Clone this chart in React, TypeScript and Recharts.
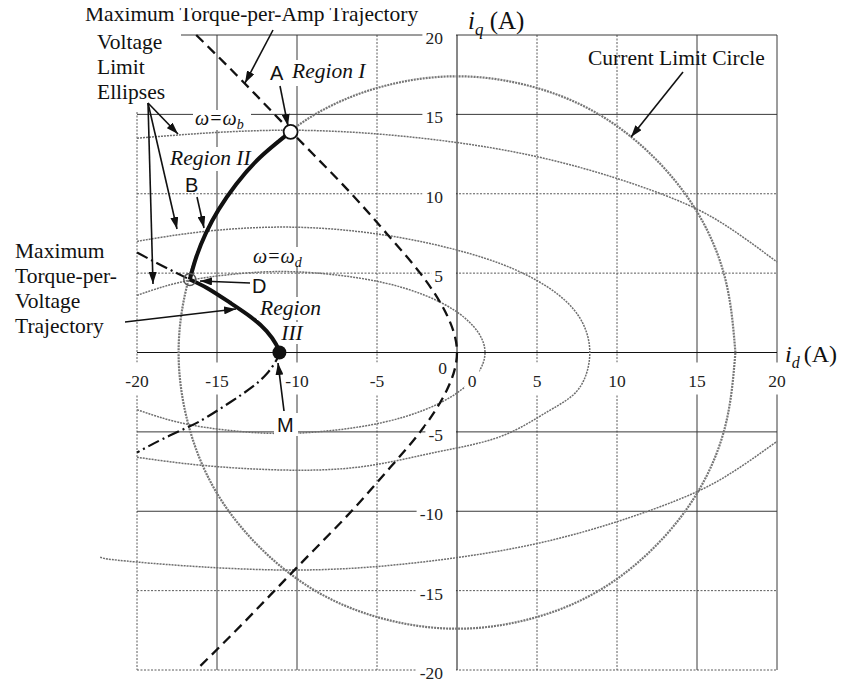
import React from "react";
import {
  ComposedChart,
  CartesianGrid,
  XAxis,
  YAxis,
  Line,
  Scatter,
} from "recharts";

type Pair = [number, number];

const X_TICKS = [-20, -15, -10, -5, 0, 5, 10, 15, 20];
const Y_TICKS = [20, 15, 10, 5, 0, -5, -10, -15, -20];
const SOLID_X = [-15, -10, 15, 20];
const DOTTED_X = [-20, -5, 5, 10];
const SOLID_Y = [20, 15, -5, -10];
const DOTTED_Y = [10, 5, -15, -20];

// all curves are [i_d, i_q] pairs in amperes
const currentLimitCircle: Pair[] = [
  [17.4, 0], [16.8, 4.5], [15.1, 8.7], [12.3, 12.3], [8.7, 15.1], [4.5, 16.8],
  [0, 17.4], [-4.5, 16.8], [-8.7, 15.1], [-12.3, 12.3], [-15.1, 8.7], [-16.8, 4.5],
  [-17.4, 0], [-16.8, -4.5], [-15.1, -8.7], [-12.3, -12.3], [-8.7, -15.1], [-4.5, -16.8],
  [0, -17.4], [4.5, -16.8], [8.7, -15.1], [12.3, -12.3], [15.1, -8.7], [16.8, -4.5],
  [17.4, 0],
];

// voltage limit ellipse at base speed
const ellipseBaseUpper: Pair[] = [
  [-20, 13.5], [-11, 14.0], [-2.2, 13.5], [6, 12.1], [13, 9.9], [16.8, 8.0], [20, 5.7],
];
const ellipseBaseLower: Pair[] = [
  [-22.3, -12.9], [-20, -13.2], [-11, -13.7], [-2.2, -13.2], [6, -11.8], [13, -9.6],
  [16.8, -7.8], [20, -5.6],
];

// intermediate speed ellipse
const ellipseMid: Pair[] = [
  [-20, 7.0], [-16, 7.6], [-11, 7.9], [-6, 7.6], [-1.4, 6.8], [2.7, 5.6], [5.7, 4.1],
  [7.6, 2.3], [8.3, 0], [7.6, -2.3], [5.7, -3.7], [2.7, -5.3], [-1.4, -6.3], [-6, -7.2],
  [-11, -7.4], [-16, -7.1], [-20, -6.6],
];

// ellipse at omega_d
const ellipseD: Pair[] = [
  [-20, 3.6], [-17.4, 4.4], [-14.3, 4.9], [-11, 5.1], [-7.7, 4.9], [-4.6, 4.4], [-2, 3.6],
  [0, 2.55], [1.3, 1.3], [1.75, 0], [1.3, -1.3], [0, -2.55], [-2, -3.6], [-4.6, -4.4],
  [-7.7, -4.9], [-11, -5.1], [-14.3, -4.9], [-17.4, -4.4], [-20, -3.6],
];

// maximum torque-per-amp trajectory
const mtpa: Pair[] = [
  [-16.3, 20], [-13.8, 17.5], [-11.4, 15], [-9.0, 12.5], [-6.6, 10], [-4.4, 7.5],
  [-2.3, 5], [-0.7, 2.5], [0, 0], [-0.7, -2.5], [-2.3, -5], [-4.4, -7.5], [-6.6, -10],
  [-9.0, -12.5], [-11.4, -15], [-13.8, -17.5], [-16.3, -20],
];

// maximum torque-per-voltage trajectory
const mtpv: Pair[] = [
  [-20, 6.3], [-18.4, 5.45], [-16.7, 4.6], [-15.6, 4.05], [-14.2, 3.15], [-12.9, 2.25],
  [-11.9, 1.35], [-11.3, 0.5], [-11.1, 0], [-11.3, -0.5], [-11.9, -1.35], [-12.9, -2.25],
  [-14.2, -3.15], [-15.6, -4.05], [-16.7, -4.65], [-18.4, -5.45], [-20, -6.3],
];

// operating path A -> D (region II) and D -> M (region III)
const regionII: Pair[] = [
  [-10.4, 13.9], [-12.3, 12.3], [-13.8, 10.6], [-14.9, 9.0], [-15.7, 7.5], [-16.3, 6.0],
  [-16.7, 4.6],
];
const regionIII: Pair[] = [
  [-16.7, 4.6], [-15.6, 4.05], [-14.2, 3.15], [-12.9, 2.25], [-11.9, 1.35], [-11.3, 0.5],
  [-11.1, 0],
];

const pointA: Pair[] = [[-10.4, 13.9]];
const pointD: Pair[] = [[-16.7, 4.6]];
const pointM: Pair[] = [[-11.1, 0]];

const toRows = (pairs: Pair[]) => pairs.map(([id, iq]) => ({ id, iq }));

const W = 830;
const H = 675;
// axes get 1px each (a 0px axis is not drawn at all)
const MARGIN = { top: 27, right: 61, bottom: 12, left: 128 };
const PLOT_LEFT = MARGIN.left + 1;
const PLOT_BOTTOM = H - MARGIN.bottom - 1;
const ZERO_X = PLOT_LEFT + (W - MARGIN.right - PLOT_LEFT) / 2;
const ZERO_Y = MARGIN.top + (PLOT_BOTTOM - MARGIN.top) / 2;

const SERIF = "'Liberation Serif', 'Times New Roman', serif";
const SANS = "'Liberation Sans', Arial, sans-serif";
const TICK_SIZE = 17.5;

const labelWidth = (s: string) =>
  s.replace("-", "").length * 8.8 + (s.startsWith("-") ? 5.8 : 0);

function XTick(props: any) {
  const { x, payload } = props;
  const v = payload.value as number;
  const s = String(v);
  const cx = v === 0 ? x + 15 : x;
  const w = labelWidth(s) + 6;
  return (
    <g>
      <rect x={cx - w / 2} y={ZERO_Y + 10} width={w} height={32} fill="#fff" />
      <text
        x={cx}
        y={ZERO_Y + 34.5}
        textAnchor="middle"
        fontFamily={SERIF}
        fontSize={TICK_SIZE}
        fill="#222"
      >
        {s}
      </text>
    </g>
  );
}

function YTick(props: any) {
  const { y, payload } = props;
  const v = payload.value as number;
  const s = String(v);
  if (v === 0) {
    return (
      <text
        x={ZERO_X - 10}
        y={ZERO_Y + 21}
        textAnchor="end"
        fontFamily={SERIF}
        fontSize={TICK_SIZE}
        fill="#222"
      >
        0
      </text>
    );
  }
  const right = ZERO_X - 14;
  const w = labelWidth(s);
  return (
    <g>
      <rect x={right - w - 3} y={y - 6} width={w + 16} height={18} fill="#fff" />
      <text
        x={right}
        y={y + 9}
        textAnchor="end"
        fontFamily={SERIF}
        fontSize={TICK_SIZE}
        fill="#222"
      >
        {s}
      </text>
    </g>
  );
}

const Arrow = ({ x1, y1, x2, y2 }: { x1: number; y1: number; x2: number; y2: number }) => (
  <line
    x1={x1}
    y1={y1}
    x2={x2}
    y2={y2}
    stroke="#111"
    strokeWidth={1.6}
    markerEnd="url(#arrowHead)"
  />
);

const serifText = { fontFamily: SERIF, fontSize: 21.5, fill: "#111" };
const italicText = { ...serifText, fontStyle: "italic" as const };
const sansText = { fontFamily: SANS, fontSize: 20, fill: "#111" };

function Annotations() {
  return (
    <svg
      width={W}
      height={H}
      style={{
        position: "absolute",
        left: 0,
        top: 0,
        overflow: "visible",
        pointerEvents: "none",
      }}
    >
      <defs>
        <marker
          id="arrowHead"
          viewBox="0 0 12 8"
          refX={12}
          refY={4}
          markerWidth={12}
          markerHeight={8}
          markerUnits="userSpaceOnUse"
          orient="auto"
        >
          <path d="M0,0 L12,4 L0,8 z" fill="#111" />
        </marker>
      </defs>

      {/* label backgrounds */}
      <rect x={87} y={20} width={86} height={84} fill="#fff" />
      <rect x={185} y={102} width={58} height={20} fill="#fff" />
      <rect x={158} y={139} width={78} height={24} fill="#fff" />
      <rect x={282} y={52} width={80} height={26} fill="#fff" />
      <rect x={243} y={239} width={58} height={19} fill="#fff" />
      <rect x={242} y={268} width={19} height={20} fill="#fff" />
      <rect x={249} y={289} width={69} height={23} fill="#fff" />
      <rect x={272} y={314} width={26} height={22} fill="#fff" />
      <rect x={266} y={405} width={24} height={23} fill="#fff" />

      <text x={77} y={13} {...serifText}>Maximum Torque-per-Amp Trajectory</text>
      <text x={89} y={41} {...serifText}>Voltage</text>
      <text x={89} y={66} {...serifText}>Limit</text>
      <text x={89} y={91} {...serifText}>Ellipses</text>

      <text x={262} y={72} {...sansText}>A</text>
      <text x={284} y={70} {...italicText}>Region I</text>
      <text x={187} y={117} {...italicText} fontSize={20}>
        ω=ω<tspan fontSize={14} dy={4}>b</tspan>
      </text>
      <text x={162} y={157} {...italicText}>Region II</text>
      <text x={177} y={184} {...sansText}>B</text>
      <text x={245} y={255} {...italicText} fontSize={20}>
        ω=ω<tspan fontSize={14} dy={4}>d</tspan>
      </text>
      <text x={244} y={285} {...sansText}>D</text>
      <text x={252} y={307} {...italicText}>Region</text>
      <text x={284} y={332} textAnchor="middle" {...italicText}>III</text>

      <text x={7} y={250} {...serifText}>Maximum</text>
      <text x={7} y={275} {...serifText}>Torque-per-</text>
      <text x={7} y={300} {...serifText}>Voltage</text>
      <text x={7} y={325} {...serifText}>Trajectory</text>

      <text x={269} y={424} {...sansText}>M</text>
      <text x={580} y={57} {...serifText}>Current Limit Circle</text>

      <text x={460} y={21} fontFamily={SERIF} fontSize={25} fill="#111">
        <tspan fontStyle="italic">i</tspan>
        <tspan fontStyle="italic" fontSize={17} dy={6}>q</tspan>
        <tspan dy={-6}> (A)</tspan>
      </text>
      <text x={777} y={354} fontFamily={SERIF} fontSize={24} fill="#111">
        <tspan fontStyle="italic">i</tspan>
        <tspan fontStyle="italic" fontSize={16} dy={6}>d</tspan>
        <tspan dy={-6} dx={4}>(A)</tspan>
      </text>

      <Arrow x1={265} y1={22} x2={237} y2={75} />
      <Arrow x1={140} y1={95} x2={170} y2={126} />
      <Arrow x1={140} y1={95} x2={169} y2={221} />
      <Arrow x1={140} y1={95} x2={145} y2={276} />
      <Arrow x1={272} y1={78} x2={280} y2={118} />
      <Arrow x1={189} y1={189} x2={196} y2={220} />
      <Arrow x1={242} y1={275} x2={192} y2={273} />
      <Arrow x1={117} y1={314} x2={228} y2={301} />
      <Arrow x1={276} y1={403} x2={270} y2={355} />
      <Arrow x1={675} y1={64} x2={623} y2={129} />
    </svg>
  );
}

const ellipseStyle = {
  type: "natural" as const,
  stroke: "#6e6e6e",
  strokeWidth: 1.5,
  strokeDasharray: "2 1",
  dot: false,
  activeDot: false,
  isAnimationActive: false,
};

export default function App() {
  return (
    <div style={{ position: "relative", width: W, height: H, background: "#fff" }}>
      {/* the base-speed ellipse runs a little past the left edge of the plot */}
      <style>{".recharts-surface [clip-path] { clip-path: none !important; }"}</style>
      <ComposedChart width={W} height={H} margin={MARGIN}>
        <CartesianGrid
          verticalValues={DOTTED_X}
          horizontalValues={DOTTED_Y}
          stroke="#5a5a5a"
          strokeDasharray="2 1.5"
        />
        <CartesianGrid verticalValues={SOLID_X} horizontalValues={SOLID_Y} stroke="#3a3a3a" />
        <CartesianGrid verticalValues={[0]} horizontalValues={[0]} stroke="#111" />

        <Line
          data={toRows(currentLimitCircle)}
          dataKey="iq"
          {...ellipseStyle}
          stroke="#777"
          strokeWidth={2.2}
        />
        <Line data={toRows(ellipseBaseUpper)} dataKey="iq" {...ellipseStyle} />
        <Line data={toRows(ellipseBaseLower)} dataKey="iq" {...ellipseStyle} />
        <Line data={toRows(ellipseMid)} dataKey="iq" {...ellipseStyle} />
        <Line data={toRows(ellipseD)} dataKey="iq" {...ellipseStyle} />

        <Line
          data={toRows(mtpa)}
          dataKey="iq"
          type="natural"
          stroke="#111"
          strokeWidth={2.3}
          strokeDasharray="10 6"
          dot={false}
          activeDot={false}
          isAnimationActive={false}
        />
        <Line
          data={toRows(mtpv)}
          dataKey="iq"
          type="natural"
          stroke="#111"
          strokeWidth={2.2}
          strokeDasharray="12 4 2 4"
          dot={false}
          activeDot={false}
          isAnimationActive={false}
        />
        <Line
          data={toRows(regionII)}
          dataKey="iq"
          type="natural"
          stroke="#111"
          strokeWidth={4}
          dot={false}
          activeDot={false}
          isAnimationActive={false}
        />
        <Line
          data={toRows(regionIII)}
          dataKey="iq"
          type="natural"
          stroke="#111"
          strokeWidth={4}
          dot={false}
          activeDot={false}
          isAnimationActive={false}
        />

        <Scatter
          data={toRows(pointA)}
          dataKey="iq"
          isAnimationActive={false}
          shape={(p: any) => (
            <circle cx={p.cx} cy={p.cy} r={7} fill="#fff" stroke="#111" strokeWidth={1.8} />
          )}
        />
        <Scatter
          data={toRows(pointD)}
          dataKey="iq"
          isAnimationActive={false}
          shape={(p: any) => (
            <circle cx={p.cx} cy={p.cy} r={6} fill="none" stroke="#555" strokeWidth={1.5} />
          )}
        />
        <Scatter
          data={toRows(pointM)}
          dataKey="iq"
          isAnimationActive={false}
          shape={(p: any) => <circle cx={p.cx} cy={p.cy} r={7} fill="#111" />}
        />

        <XAxis
          type="number"
          dataKey="id"
          domain={[-20, 20]}
          ticks={X_TICKS}
          interval={0}
          allowDataOverflow
          axisLine={false}
          tickLine={false}
          height={1}
          tick={(p: any) => <XTick {...p} />}
        />
        <YAxis
          type="number"
          dataKey="iq"
          domain={[-20, 20]}
          ticks={Y_TICKS}
          interval={0}
          allowDataOverflow
          axisLine={false}
          tickLine={false}
          width={1}
          tick={(p: any) => <YTick {...p} />}
        />
      </ComposedChart>
      <Annotations />
    </div>
  );
}
